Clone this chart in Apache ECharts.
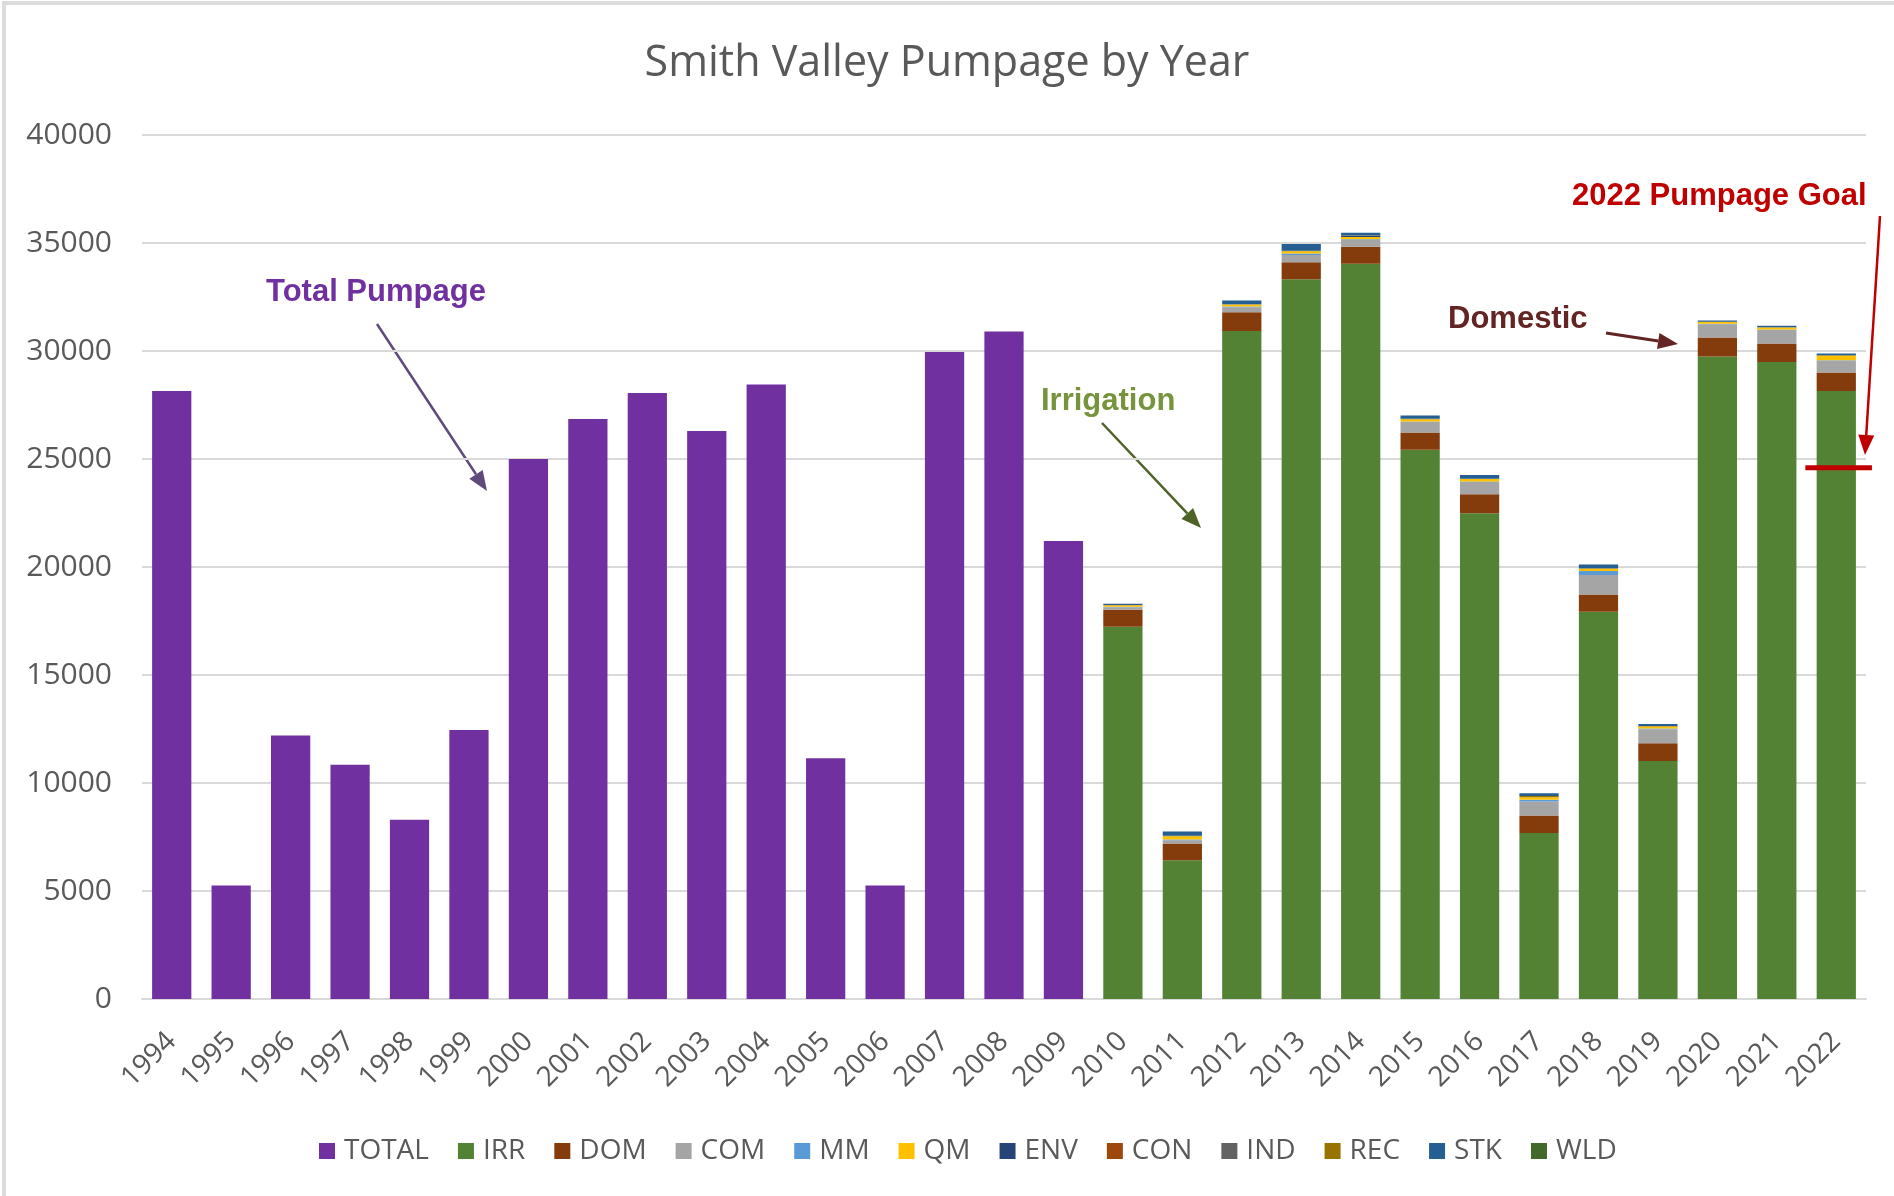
<!DOCTYPE html>
<html>
<head>
    <meta charset="UTF-8">
    <title>Smith Valley Pumpage by Year</title>
    <script src="https://cdn.jsdelivr.net/npm/echarts@6/dist/echarts.min.js"></script>
    <style>
        html, body { margin: 0; padding: 0; background: #fff; }
        #chart { width: 1894px; height: 1196px; }
    </style>
</head>
<body>
<div id="chart"></div>
<script>
    // years on the x axis
    var years = ['1994','1995','1996','1997','1998','1999','2000','2001','2002','2003','2004','2005','2006','2007','2008','2009',
                 '2010','2011','2012','2013','2014','2015','2016','2017','2018','2019','2020','2021','2022'];

    // total pumpage only (1994-2009), after that split by use
    var total = [28150,5250,12200,10850,8300,12450,25000,26850,28050,26300,28450,11150,5250,29950,30900,21200,
                 '-','-','-','-','-','-','-','-','-','-','-','-','-'];
    var pad = ['-','-','-','-','-','-','-','-','-','-','-','-','-','-','-','-'];
    var irr = pad.concat([17235,6420,30930,33320,34040,25430,22490,7690,17930,11020,29740,29490,28150]);
    var dom = pad.concat([790,780,860,790,790,800,880,800,800,820,880,860,860]);
    var com = pad.concat([110,155,230,340,310,490,570,650,900,650,620,630,540]);
    var mm  = pad.concat([20,30,40,60,30,20,20,90,185,30,20,20,20]);
    var qm  = pad.concat([70,155,90,110,110,100,110,110,105,100,80,90,210]);
    var env = pad.concat([0,0,0,0,40,0,0,0,0,0,0,0,0]);
    var con = pad.concat([0,0,0,0,0,0,0,0,0,0,0,0,0]);
    var ind = pad.concat([0,0,0,0,0,0,0,0,0,0,0,0,0]);
    var rec = pad.concat([10,20,20,20,30,20,20,60,20,20,10,10,20]);
    var stk = pad.concat([60,200,170,310,120,150,170,120,180,90,60,70,90]);
    var wld = pad.concat([0,0,0,0,0,0,0,0,0,0,0,0,0]);

    var goalYear = '2022';
    var goalValue = 24600;

    var yTicks = { min: 0, max: 40000, interval: 5000 };

    var chart = echarts.init(document.getElementById('chart'));

    function bar(name, data, color) {
        return {
            name: name,
            type: 'bar',
            stack: 'all',
            data: data,
            barCategoryGap: '34%',
            itemStyle: { color: color },
            emphasis: { disabled: true }
        };
    }

    // arrow = line + triangle head
    function arrow(x1, y1, x2, y2, color, w) {
        var a = Math.atan2(y2 - y1, x2 - x1);
        var len = 20, half = 8;
        var bx = x2 - len * Math.cos(a), by = y2 - len * Math.sin(a);
        var px = -Math.sin(a) * half, py = Math.cos(a) * half;
        return [
            { type: 'line', shape: { x1: x1, y1: y1, x2: bx, y2: by }, style: { stroke: color, lineWidth: w } },
            { type: 'polygon', shape: { points: [[x2, y2], [bx + px, by + py], [bx - px, by - py]] }, style: { fill: color } }
        ];
    }

    function note(text, x, y, color) {
        return {
            type: 'text', x: x, y: y,
            style: { text: text, fill: color, font: 'bold 31px "Liberation Sans", Arial', verticalAlign: 'middle' }
        };
    }

    var graphics = [
        { type: 'rect', shape: { x: 4, y: 3, width: 1900, height: 1200 }, style: { fill: 'none', stroke: '#dcdcdc', lineWidth: 4 }, silent: true },
        note('Total Pumpage', 266, 292, '#7030a0'),
        note('Irrigation', 1041, 401, '#77933c'),
        note('Domestic', 1448, 319, '#632523'),
        note('2022 Pumpage Goal', 1572, 196, '#c00000')
    ]
        .concat(arrow(377, 324, 487, 491, '#604a7b', 2.5))
        .concat(arrow(1102, 423, 1201, 528, '#4f6228', 2.5))
        .concat(arrow(1606, 333, 1678, 344, '#632523', 3))
        .concat(arrow(1880, 216, 1865, 455, '#c00000', 2.5));

    var textFont = '"Open Sans", "Noto Sans", sans-serif';

    chart.setOption({
        animation: false,
        title: {
            text: 'Smith Valley Pumpage by Year',
            left: 'center',
            top: 37,
            textStyle: { color: '#595959', fontSize: 43, fontWeight: 'normal', fontFamily: textFont }
        },
        grid: { left: 142, right: 28, top: 135, bottom: 197 },
        legend: {
            data: ['TOTAL','IRR','DOM','COM','MM','QM','ENV','CON','IND','REC','STK','WLD'],
            top: 1132,
            left: 314,
            icon: 'rect',
            itemWidth: 16,
            itemHeight: 16,
            itemGap: 29,
            textStyle: { color: '#595959', fontSize: 28, fontFamily: textFont, padding: [0, 0, 0, 4] }
        },
        xAxis: {
            type: 'category',
            data: years,
            axisTick: { show: false },
            axisLine: { lineStyle: { color: '#d9d9d9', width: 2 } },
            axisLabel: { rotate: 45, color: '#595959', fontSize: 28, fontFamily: textFont, margin: 38, interval: 0 }
        },
        yAxis: {
            type: 'value',
            min: yTicks.min,
            max: yTicks.max,
            interval: yTicks.interval,
            axisLine: { show: false },
            axisTick: { show: false },
            axisLabel: { color: '#595959', fontSize: 30, fontFamily: textFont, margin: 30,
                         formatter: function (v) { return String(v); } },
            splitLine: { lineStyle: { color: '#d9d9d9', width: 2 } }
        },
        series: [
            bar('TOTAL', total, '#7030a0'),
            bar('IRR', irr, '#548235'),
            bar('DOM', dom, '#843c0c'),
            bar('COM', com, '#a5a5a5'),
            bar('MM', mm, '#5b9bd5'),
            bar('QM', qm, '#ffc000'),
            bar('ENV', env, '#264478'),
            bar('CON', con, '#9e480e'),
            bar('IND', ind, '#636363'),
            bar('REC', rec, '#997300'),
            bar('STK', stk, '#255e91'),
            bar('WLD', wld, '#43682b'),
            {
                name: 'Goal',
                type: 'custom',
                z: 10,
                data: [[goalYear, goalValue]],
                renderItem: function (params, api) {
                    var p = api.coord([api.value(0), api.value(1)]);
                    var bw = api.size([1, 0])[0];
                    return {
                        type: 'line',
                        shape: { x1: p[0] - 0.52 * bw, y1: p[1], x2: p[0] + 0.6 * bw, y2: p[1] },
                        style: { stroke: '#c00000', lineWidth: 5 }
                    };
                }
            }
        ],
        graphic: graphics
    });
</script>
</body>
</html>
